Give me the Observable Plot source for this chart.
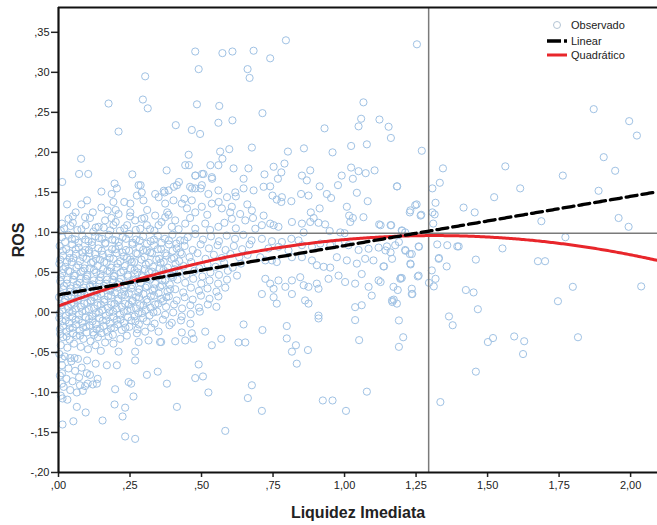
<!DOCTYPE html>
<html>
<head>
<meta charset="utf-8">
<script src="https://cdn.jsdelivr.net/npm/d3@7"></script>
<script src="https://cdn.jsdelivr.net/npm/@observablehq/plot@0.6"></script>
<style>
  html, body { margin: 0; padding: 0; background: #fff; }
  #wrap { position: relative; width: 657px; height: 525px; overflow: hidden; font-family: "Liberation Sans", Arial, sans-serif; }
  #wrap svg text { fill: #222; }
  g[aria-label="x-axis label"] text, g[aria-label="y-axis label"] text { font-weight: bold; font-size: 16px; fill: #111; }
  .leg { position: absolute; height: 14px; line-height: 14px; font-size: 11px; color: #222; white-space: nowrap; }
  .leg svg { position: absolute; left: 0; top: 0; }
  .leg span { position: absolute; left: 24px; top: 0; }
</style>
</head>
<body>
<div id="wrap"></div>
<script>
// ---------- data ----------
const xTicks = [0, 0.25, 0.5, 0.75, 1.0, 1.25, 1.5, 1.75, 2.0];
const yTicks = [-0.20, -0.15, -0.10, -0.05, 0.00, 0.05, 0.10, 0.15, 0.20, 0.25, 0.30, 0.35];
const xDomain = [0, 2.094];
const yDomain = [-0.2, 0.381];
const refX = 1.294;   // vertical reference line (Liquidez Imediata)
const refY = 0.099;   // horizontal reference line (ROS)
const linearCoef = [0.022, 0.0615];          // ROS = a + b*x
const quadCoef = [0.008, 0.134, -0.051];     // ROS = a + b*x + c*x^2
const seriesNames = ["Observado", "Linear", "Quadrático"];

// observed points: upper scatter
const obsUpper = [
[0.478,0.326],[0.573,0.324],[0.608,0.326],[0.682,0.327],[0.490,0.304],[0.661,0.304],[0.668,0.293],[0.303,0.295],[0.175,0.261],[0.295,0.266],[0.312,0.255],[0.484,0.260],[0.562,0.258],[0.210,0.226],[0.410,0.234],[0.466,0.228],[0.495,0.223],[0.559,0.237],[0.608,0.240],[0.079,0.192],[0.455,0.197],[0.565,0.201],[0.597,0.204],[0.676,0.206],[0.573,0.192],
[0.013,0.163],[0.072,0.173],[0.104,0.173],[0.258,0.1725],[0.378,0.1775],[0.150,0.151],[0.196,0.161],[0.287,0.159],[0.456,0.184],[0.531,0.184],[0.537,0.167],[0.479,0.171],[0.502,0.173],[0.421,0.163],[0.403,0.157],[0.368,0.152],[0.467,0.155],[0.497,0.155],
[0.795,0.340],[0.740,0.3175],[1.253,0.335],[0.713,0.249],[1.066,0.2625],[1.058,0.242],[1.049,0.2325],[1.122,0.241],[1.154,0.232],[1.162,0.218],[0.930,0.230],[0.802,0.201],[0.858,0.205],[0.958,0.200],[1.023,0.208],[1.078,0.210],[1.270,0.202],
[0.186,0.148],[0.204,0.155],[0.192,0.138],[0.280,0.159],[0.291,0.150],[0.274,0.146],[0.297,0.140],[0.172,0.1275],[0.210,0.123],[0.163,0.115],[0.192,0.109],[0.181,0.1025],[0.035,0.117],[0.012,0.111],[0.093,0.119],[0.140,0.107],[0.251,0.136],[0.251,0.125],[0.291,0.117],[0.268,0.115],[0.309,0.109],[0.286,0.1046],
[0.338,0.148],[0.350,0.144],[0.371,0.150],[0.385,0.1525],[0.402,0.140],[0.373,0.136],[0.443,0.184],[0.478,0.171],[0.507,0.173],[0.536,0.169],[0.559,0.184],[0.612,0.180],[0.664,0.180],[0.647,0.167],
[0.414,0.159],[0.460,0.157],[0.478,0.155],[0.501,0.159],[0.524,0.148],[0.559,0.1525],[0.589,0.144],[0.618,0.150],[0.647,0.155],[0.682,0.1525],
[0.431,0.136],[0.449,0.130],[0.466,0.140],[0.478,0.125],[0.501,0.132],[0.536,0.136],[0.571,0.130],[0.606,0.132],[0.635,0.123],[0.676,0.1275],
[0.338,0.121],[0.373,0.119],[0.408,0.115],[0.350,0.109],[0.396,0.107],[0.443,0.111],[0.478,0.1046],[0.513,0.111],[0.559,0.107],[0.606,0.117],[0.653,0.115],[0.688,0.1046],
[0.020,0.105],[0.050,0.112],[0.080,0.104],[0.110,0.118],[0.130,0.106],[0.200,0.113],[0.230,0.105],[0.250,0.120],[0.320,0.104],[0.360,0.113],[0.420,0.104],[0.460,0.118],[0.530,0.103],[0.580,0.112],[0.620,0.105],[0.680,0.118],[0.060,0.125],[0.150,0.131],[0.310,0.128],[0.440,0.142],[0.560,0.138],[0.620,0.145],[0.660,0.135],[0.100,0.140],[0.030,0.135],
[0.008,0.102],[0.042,0.108],[0.066,0.103],[0.095,0.109],[0.122,0.101],[0.158,0.106],[0.185,0.118],[0.215,0.102],[0.240,0.109],[0.270,0.103],[0.300,0.118],[0.335,0.102],[0.385,0.122],[0.050,0.120],[0.120,0.125],[0.200,0.128],[0.230,0.138],[0.080,0.135],[0.380,0.125],[0.520,0.122],[0.600,0.125]
];

// observed points: middle range (x 0.7 – 1.3)
const obsMiddle = [
[0.720,0.1725],[0.752,0.182],[0.779,0.175],[0.790,0.186],[0.767,0.167],[0.717,0.157],[0.740,0.1575],[0.748,0.146],[0.763,0.141],[0.781,0.144],[0.779,0.138],[0.814,0.139],[0.851,0.171],[0.868,0.165],[0.880,0.1775],[0.913,0.1575],[0.848,0.148],[0.874,0.146],[0.938,0.148],[0.953,0.143],
[0.977,0.159],[0.990,0.171],[1.023,0.181],[1.029,0.167],[1.049,0.1765],[1.074,0.174],[1.105,0.1775],[1.043,0.1495],[1.081,0.139],[1.008,0.132],[1.016,0.121],[1.029,0.118],[1.020,0.113],[1.066,0.119],
[0.882,0.125],[0.913,0.130],[0.892,0.118],[0.880,0.113],[0.909,0.112],[0.932,0.110],[0.948,0.1017],[0.985,0.100],[1.000,0.099],[1.183,0.1575],[1.230,0.1275],[1.247,0.134],[1.268,0.122],[1.121,0.110],[1.163,0.109],[1.200,0.1025],[1.212,0.100],
[0.717,0.121],[0.711,0.109],[0.740,0.111],[0.752,0.109],[0.769,0.107],[0.816,0.113],[0.851,0.111],[0.857,0.100],
[0.711,0.092],[0.746,0.089],[0.781,0.088],[0.814,0.092],[0.839,0.090],[0.734,0.080],[0.769,0.082],[0.804,0.0775],
[0.851,0.084],[0.886,0.082],[0.915,0.086],[0.950,0.084],[0.979,0.086],[1.014,0.084],[1.049,0.078],[1.084,0.0796],[1.119,0.081],[1.148,0.0825],[1.177,0.084],[1.212,0.078],[1.235,0.073],[1.259,0.0825],
[0.705,0.069],[0.723,0.065],[0.746,0.065],[0.763,0.063],[0.816,0.069],[0.851,0.069],[0.886,0.065],[0.903,0.059],[0.927,0.057],[0.950,0.056],[0.973,0.069],[1.008,0.065],[1.043,0.061],[1.072,0.067],[1.101,0.065],[1.136,0.0575],[1.166,0.067],[1.200,0.043],[1.230,0.061],[1.259,0.046],[1.305,0.0525],[1.329,0.067],
[0.723,0.042],[0.740,0.036],[0.752,0.0296],[0.769,0.040],[0.793,0.032],[0.816,0.040],[0.845,0.044],[0.857,0.034],[0.874,0.032],[0.903,0.036],[0.909,0.0296],[0.944,0.042],[0.979,0.046],[1.002,0.038],[1.037,0.036],[1.060,0.048],[1.084,0.032],[1.119,0.040],[1.171,0.032],[1.195,0.042],[1.235,0.0296],
[0.711,0.023],[0.752,0.019],[0.763,0.011],[0.816,0.023],[0.862,0.015],[0.874,0.011],[0.909,-0.004],[1.037,0.0066],[1.060,0.009],[1.095,0.021],[1.166,0.015],[1.183,0.011],[1.235,0.023],
[0.798,-0.017],[0.798,-0.0325],[0.830,-0.041],[0.816,-0.049],[0.872,-0.047],[0.833,-0.064],[0.713,-0.022],[0.909,-0.0075],[1.037,-0.0096],[1.051,-0.0346],[0.711,-0.123],[0.924,-0.110],[0.958,-0.110],[1.005,-0.123],[1.078,-0.099]
];

// observed points: right of the vertical reference line
const obsRight = [
[1.871,0.254],[1.995,0.239],[2.022,0.221],[1.906,0.194],[1.946,0.177],[1.562,0.1825],[1.763,0.171],[1.614,0.155],[1.523,0.144],[1.416,0.131],[1.455,0.125],[1.888,0.152],[1.688,0.114],[1.958,0.118],[1.993,0.107],[1.772,0.094],[1.399,0.0825],[1.552,0.080],[1.459,0.066],[1.676,0.064],[1.701,0.064],[1.424,0.028],[1.451,0.025],[1.466,0.004],[1.798,0.032],[1.746,0.014],[2.037,0.0325],[1.501,-0.037],[1.519,-0.032],[1.593,-0.030],[1.628,-0.036],[1.624,-0.052],[1.816,-0.031],[1.459,-0.074],
[1.344,0.180],[1.333,0.162],[1.184,0.1575],[1.307,0.155],[1.318,0.137],[1.252,0.135],[1.228,0.125],[1.266,0.121],[1.307,0.125],[1.315,0.1225],[1.310,0.111],[1.161,0.109],[1.201,0.102],[1.126,0.109],[1.324,0.085],[1.359,0.084],[1.394,0.0825],[1.190,0.088],[1.143,0.0775],[1.161,0.075],[1.213,0.077],[1.228,0.073],[1.260,0.082],[1.138,0.0575],[1.231,0.060],[1.330,0.068],[1.357,0.0575],[1.256,0.045],[1.196,0.043],[1.295,0.037],[1.312,0.0325],[1.318,0.042],[1.126,0.038],[1.186,0.028],[1.237,0.023],[1.167,0.013],[1.172,0.016],[1.365,-0.005],[1.378,-0.016],[1.190,-0.010],[1.205,-0.031],[1.190,-0.043],[1.335,-0.112]
];

// observed points: dense cluster (x 0 – 0.7, ROS ≤ 0.10)
const obsDense = [
[0.012,0.094],[0.035,0.097],[0.058,0.091],[0.083,0.096],[0.105,0.089],[0.128,0.095],[0.152,0.092],[0.176,0.097],[0.198,0.090],[0.224,0.094],[0.247,0.098],[0.271,0.091],[0.296,0.095],[0.322,0.089],[0.347,0.096],[0.372,0.092],[0.398,0.097],[0.425,0.090],[0.452,0.094],[0.478,0.098],[0.505,0.091],[0.533,0.095],[0.561,0.089],[0.588,0.096],[0.617,0.092],[0.646,0.097],[0.675,0.090],
[0.004,0.083],[0.027,0.079],[0.048,0.085],[0.071,0.081],[0.094,0.078],[0.117,0.084],[0.139,0.080],[0.163,0.086],[0.187,0.079],[0.211,0.083],[0.236,0.078],[0.258,0.085],[0.283,0.081],[0.309,0.077],[0.334,0.084],[0.359,0.079],[0.386,0.085],[0.413,0.080],[0.441,0.083],[0.469,0.078],[0.497,0.085],[0.526,0.080],[0.556,0.084],[0.584,0.078],[0.613,0.083],[0.642,0.079],[0.668,0.085],
[0.016,0.071],[0.039,0.068],[0.061,0.073],[0.086,0.069],[0.108,0.074],[0.131,0.067],[0.155,0.072],[0.179,0.068],[0.203,0.074],[0.228,0.070],[0.251,0.066],[0.276,0.073],[0.301,0.069],[0.327,0.074],[0.352,0.067],[0.378,0.071],[0.404,0.068],[0.431,0.073],[0.458,0.069],[0.486,0.074],[0.514,0.067],[0.543,0.072],[0.571,0.068],[0.601,0.073],[0.632,0.069],[0.661,0.072],
[0.003,0.061],[0.024,0.057],[0.046,0.063],[0.069,0.059],[0.091,0.055],[0.114,0.062],[0.137,0.058],[0.160,0.063],[0.184,0.056],[0.207,0.061],[0.232,0.058],[0.256,0.063],[0.279,0.055],[0.305,0.060],[0.331,0.057],[0.357,0.062],[0.382,0.056],[0.409,0.061],[0.437,0.058],[0.464,0.063],[0.492,0.055],[0.521,0.060],[0.549,0.057],[0.579,0.062],[0.609,0.056],[0.638,0.061],
[0.013,0.049],[0.034,0.052],[0.057,0.046],[0.079,0.051],[0.101,0.047],[0.124,0.053],[0.147,0.048],[0.171,0.052],[0.194,0.045],[0.218,0.050],[0.242,0.047],[0.266,0.053],[0.291,0.046],[0.316,0.051],[0.341,0.048],[0.367,0.053],[0.393,0.046],[0.421,0.050],[0.447,0.047],[0.475,0.052],[0.503,0.045],[0.531,0.050],[0.561,0.047],[0.592,0.052],[0.624,0.046],
[0.006,0.039],[0.029,0.036],[0.051,0.041],[0.074,0.037],[0.096,0.042],[0.119,0.035],[0.142,0.040],[0.166,0.036],[0.189,0.041],[0.213,0.038],[0.238,0.035],[0.262,0.041],[0.287,0.037],[0.312,0.042],[0.338,0.036],[0.363,0.040],[0.389,0.035],[0.416,0.041],[0.443,0.037],[0.471,0.042],[0.499,0.036],[0.528,0.040],[0.558,0.036],[0.589,0.041],
[0.017,0.029],[0.040,0.026],[0.063,0.031],[0.085,0.027],[0.109,0.032],[0.133,0.025],[0.157,0.030],[0.181,0.027],[0.205,0.031],[0.229,0.026],[0.254,0.030],[0.279,0.025],[0.304,0.031],[0.329,0.027],[0.355,0.032],[0.381,0.026],[0.408,0.029],[0.436,0.025],[0.463,0.031],[0.491,0.027],[0.521,0.030],[0.552,0.026],[0.583,0.031],
[0.002,0.019],[0.023,0.016],[0.045,0.021],[0.068,0.017],[0.091,0.022],[0.113,0.015],[0.136,0.020],[0.160,0.016],[0.184,0.021],[0.209,0.017],[0.233,0.022],[0.257,0.015],[0.282,0.019],[0.308,0.016],[0.334,0.021],[0.359,0.017],[0.386,0.020],[0.413,0.015],[0.441,0.019],[0.469,0.016],[0.498,0.021],[0.528,0.017],[0.559,0.020],
[0.011,0.009],[0.033,0.006],[0.055,0.011],[0.078,0.007],[0.101,0.012],[0.124,0.005],[0.148,0.010],[0.172,0.006],[0.196,0.011],[0.221,0.007],[0.246,0.010],[0.271,0.005],[0.297,0.009],[0.322,0.006],[0.349,0.011],[0.376,0.007],[0.404,0.010],[0.432,0.005],[0.461,0.009],[0.491,0.006],[0.522,0.010],[0.552,0.007],
[0.004,-0.001],[0.026,-0.004],[0.049,0.001],[0.072,-0.003],[0.095,0.002],[0.118,-0.005],[0.142,0.000],[0.166,-0.004],[0.191,0.001],[0.215,-0.003],[0.241,0.002],[0.266,-0.005],[0.292,-0.001],[0.318,-0.004],[0.345,0.001],[0.373,-0.003],[0.401,0.000],[0.431,-0.005],[0.462,-0.002],[0.494,0.001],
[0.014,-0.011],[0.037,-0.014],[0.060,-0.009],[0.083,-0.013],[0.107,-0.008],[0.131,-0.015],[0.155,-0.010],[0.180,-0.014],[0.204,-0.009],[0.229,-0.013],[0.255,-0.010],[0.281,-0.015],[0.308,-0.011],[0.336,-0.014],[0.365,-0.009],[0.396,-0.013],[0.428,-0.010],[0.461,-0.014],
[0.005,-0.021],[0.027,-0.024],[0.050,-0.019],[0.074,-0.023],[0.097,-0.018],[0.121,-0.025],[0.145,-0.020],[0.170,-0.024],[0.195,-0.019],[0.221,-0.022],[0.248,-0.018],[0.276,-0.021],[0.324,-0.019],[0.388,-0.016],
[0.016,-0.031],[0.039,-0.034],[0.063,-0.029],[0.087,-0.033],[0.112,-0.036],[0.138,-0.031],[0.216,-0.033],[0.008,-0.041],[0.031,-0.044],[0.054,-0.039],[0.078,-0.043],[0.103,-0.046],[0.129,-0.041],[0.148,-0.048]
];

// observed points: densest core (x 0 – 0.45), second layer
const obsCore = [
[0.023,0.088],[0.047,0.092],[0.070,0.087],[0.094,0.091],[0.117,0.088],[0.141,0.093],[0.164,0.087],[0.188,0.091],[0.211,0.088],[0.236,0.092],[0.259,0.087],[0.284,0.090],[0.309,0.086],[0.334,0.091],[0.360,0.087],[0.386,0.090],[0.412,0.086],[0.440,0.090],
[0.015,0.077],[0.038,0.074],[0.060,0.079],[0.083,0.075],[0.106,0.078],[0.128,0.073],[0.151,0.077],[0.175,0.074],[0.199,0.079],[0.223,0.075],[0.247,0.077],[0.271,0.074],[0.296,0.078],[0.321,0.075],[0.347,0.079],[0.373,0.074],[0.399,0.077],[0.426,0.075],
[0.006,0.066],[0.029,0.063],[0.052,0.068],[0.075,0.064],[0.098,0.067],[0.121,0.063],[0.145,0.066],[0.168,0.062],[0.192,0.067],[0.216,0.064],[0.240,0.068],[0.265,0.063],[0.290,0.066],[0.316,0.062],[0.342,0.066],[0.368,0.063],[0.395,0.067],[0.422,0.064],
[0.017,0.054],[0.040,0.051],[0.063,0.056],[0.086,0.052],[0.109,0.055],[0.132,0.050],[0.156,0.054],[0.179,0.051],[0.203,0.056],[0.227,0.052],[0.251,0.055],[0.276,0.050],[0.301,0.054],[0.327,0.051],[0.353,0.055],[0.379,0.050],[0.406,0.054],
[0.008,0.044],[0.031,0.041],[0.054,0.046],[0.077,0.042],[0.100,0.045],[0.123,0.040],[0.147,0.044],[0.170,0.041],[0.194,0.046],[0.218,0.042],[0.243,0.045],[0.268,0.040],[0.294,0.044],[0.320,0.041],[0.346,0.045],[0.373,0.040],[0.400,0.044],
[0.019,0.033],[0.042,0.030],[0.065,0.035],[0.088,0.031],[0.111,0.034],[0.135,0.029],[0.159,0.033],[0.183,0.030],[0.207,0.035],[0.232,0.031],[0.257,0.034],[0.283,0.029],[0.309,0.033],[0.335,0.030],[0.362,0.034],[0.390,0.029],
[0.010,0.023],[0.033,0.020],[0.056,0.025],[0.079,0.021],[0.102,0.024],[0.125,0.019],[0.149,0.023],[0.173,0.020],[0.197,0.025],[0.221,0.021],[0.246,0.024],[0.271,0.019],[0.297,0.023],[0.323,0.020],[0.350,0.024],[0.377,0.019],
[0.021,0.013],[0.044,0.010],[0.067,0.015],[0.090,0.011],[0.113,0.014],[0.136,0.009],[0.160,0.013],[0.184,0.010],[0.208,0.015],[0.233,0.011],[0.259,0.014],[0.285,0.009],[0.311,0.013],[0.338,0.010],[0.365,0.014],
[0.014,0.003],[0.037,0.000],[0.060,0.005],[0.083,0.001],[0.106,0.004],[0.130,-0.001],[0.154,0.003],[0.178,0.000],[0.203,0.005],[0.228,0.001],[0.253,0.004],[0.279,-0.001],[0.305,0.003],[0.332,0.000],
[0.003,-0.007],[0.025,-0.010],[0.048,-0.005],[0.071,-0.009],[0.095,-0.006],[0.119,-0.011],[0.143,-0.007],[0.167,-0.010],[0.192,-0.005],[0.217,-0.009],[0.243,-0.006],[0.269,-0.011],[0.296,-0.007],
[0.016,-0.017],[0.039,-0.020],[0.062,-0.015],[0.086,-0.019],[0.109,-0.016],[0.133,-0.021],[0.158,-0.017],[0.183,-0.020],[0.208,-0.015],[0.234,-0.019],
[0.006,-0.027],[0.028,-0.030],[0.051,-0.026],[0.075,-0.029],[0.099,-0.025],[0.124,-0.028],[0.150,-0.026],[0.190,-0.028]
];

// observed points: lower scatter
const obsLower = [
[0.647,-0.015],[0.629,-0.0375],[0.653,-0.0375],[0.569,-0.033],[0.490,-0.065],[0.478,-0.082],[0.505,-0.080],[0.524,-0.100],[0.414,-0.118],[0.583,-0.148],[0.676,-0.091],[0.662,-0.107],[0.379,-0.089],[0.347,-0.074],[0.309,-0.078],[0.262,-0.105],[0.233,-0.119],[0.224,-0.130],[0.196,-0.115],[0.198,-0.096],[0.233,-0.155],[0.268,-0.158],[0.154,-0.135],[0.095,-0.125],[0.064,-0.118],[0.052,-0.136],[0.014,-0.140],[0.014,-0.1075],[0.245,-0.087],[0.254,-0.089],[0.130,-0.064],[0.169,-0.066],[0.204,-0.066],[0.268,-0.060],[0.134,-0.089],[0.137,-0.083],[0.099,-0.076],[0.102,-0.089],[0.041,-0.057],[0.056,-0.057],[0.012,-0.0575],[0.012,-0.076],[0.012,-0.089],[0.210,-0.049],[0.268,-0.049],[0.359,-0.037],[0.408,-0.036],[0.443,-0.035],[0.472,-0.033],[0.513,-0.024],[0.536,-0.041],[0.431,-0.025],[0.466,-0.026],[0.303,-0.024],[0.350,-0.024],[0.274,-0.026],[0.280,-0.037],[0.315,-0.035],[0.355,-0.037],[0.239,-0.029],[0.192,-0.039],[0.163,-0.0375],[0.175,-0.030],
[0.003,-0.052],[0.022,-0.055],[0.045,-0.061],[0.068,-0.058],[0.012,-0.066],[0.035,-0.070],[0.058,-0.073],[0.081,-0.069],[0.005,-0.079],[0.028,-0.083],[0.049,-0.086],[0.072,-0.081],[0.093,-0.092],[0.018,-0.093],[0.041,-0.097],[0.064,-0.100],[0.085,-0.098],[0.008,-0.104],[0.031,-0.109],[0.075,-0.091],[0.110,-0.078],[0.120,-0.090],[0.100,-0.060]
];

// ---------- chart ----------
const observed = [...obsUpper, ...obsMiddle, ...obsRight, ...obsDense, ...obsCore, ...obsLower];
const fitX = d3.range(0, 2.0941, 0.006);
const linY = x => linearCoef[0] + linearCoef[1] * x;
const quadY = x => quadCoef[0] + quadCoef[1] * x + quadCoef[2] * x * x;

function fmt(d) {
  let s = Math.abs(d) < 1e-9 ? "0.00" : d.toFixed(2);
  s = s.replace(/^(-?)0\./, "$1.");
  return s.replace(".", ",");
}

const chart = Plot.plot({
  width: 657,
  height: 525,
  marginLeft: 58,
  marginRight: 0,
  marginTop: 7,
  marginBottom: 53,
  x: {domain: xDomain},
  y: {domain: yDomain},
  style: {fontFamily: "'Liberation Sans', Arial, sans-serif", fontSize: "11px", background: "#fff", color: "#222", overflow: "visible"},
  marks: [
    Plot.dot(observed, {x: d => d[0], y: d => d[1], r: 3.6, stroke: "#a0c2e4", strokeWidth: 1, fill: "none"}),
    Plot.ruleX([refX], {stroke: "#7a7a7a", strokeWidth: 1.5}),
    Plot.ruleY([refY], {stroke: "#7a7a7a", strokeWidth: 1.5}),
    Plot.line(fitX, {x: d => d, y: quadY, stroke: "#e8262b", strokeWidth: 3, clip: true}),
    Plot.line(fitX, {x: d => d, y: linY, stroke: "#000", strokeWidth: 3.3, strokeDasharray: "11,5", clip: true}),
    Plot.axisX({ticks: xTicks, tickFormat: fmt, tickSize: 5, tickPadding: 4, strokeWidth: 1.5, stroke: "#222",
      label: "Liquidez Imediata", labelAnchor: "center", labelOffset: 45, labelArrow: "none"}),
    Plot.axisY({ticks: yTicks, tickFormat: fmt, tickSize: 7, tickPadding: 2, strokeWidth: 1.5, stroke: "#222",
      label: "ROS", labelAnchor: "center", labelOffset: 46, labelArrow: "none"}),
    Plot.ruleX([xDomain[0]], {stroke: "#111", strokeWidth: 2.2}),
    Plot.ruleY([yDomain[0]], {stroke: "#111", strokeWidth: 2.2}),
    Plot.ruleY([yDomain[1]], {stroke: "#111", strokeWidth: 2.2})
  ]
});

const wrap = document.getElementById("wrap");
wrap.appendChild(chart);

// legend
const legendSymbols = [
  `<svg width="22" height="14"><circle cx="10" cy="7" r="3.5" fill="none" stroke="#b3c4d4" stroke-width="1"/></svg>`,
  `<svg width="22" height="14"><line x1="0" y1="7" x2="20" y2="7" stroke="#000" stroke-width="3.3" stroke-dasharray="14,3,3,3"/></svg>`,
  `<svg width="22" height="14"><line x1="0" y1="7" x2="20" y2="7" stroke="#e8262b" stroke-width="3"/></svg>`
];
const legendTops = [18, 34, 48];
seriesNames.forEach((name, i) => {
  const row = document.createElement("div");
  row.className = "leg";
  row.style.left = "547px";
  row.style.top = legendTops[i] + "px";
  row.innerHTML = legendSymbols[i] + `<span>${name}</span>`;
  wrap.appendChild(row);
});
</script>
</body>
</html>
